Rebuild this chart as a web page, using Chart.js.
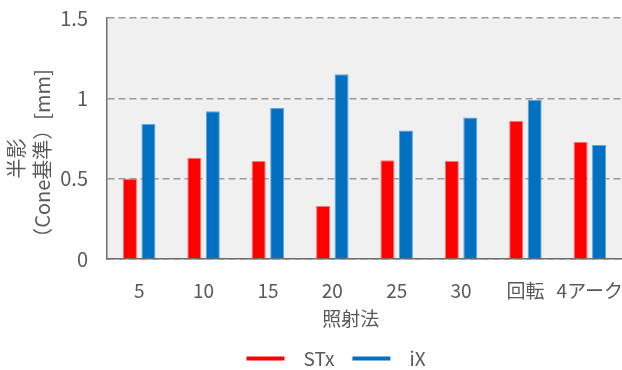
<!DOCTYPE html>
<html>
<head>
<meta charset="utf-8">
<script src="https://cdn.jsdelivr.net/npm/chart.js@4"></script>
<style>
  html, body { margin: 0; padding: 0; background: #ffffff; }
  canvas { display: block; }
</style>
</head>
<body>
<canvas id="chart" width="622" height="370"></canvas>
<script>
// Irradiation methods and penumbra widths for each machine
const categories = ['5', '10', '15', '20', '25', '30', '回転', '4アーク'];
const stxValues = [0.50, 0.63, 0.61, 0.33, 0.615, 0.61, 0.86, 0.73];
const ixValues = [0.84, 0.92, 0.94, 1.15, 0.80, 0.88, 0.99, 0.71];
const seriesNames = ['STx', 'iX'];
const yMin = 0, yMax = 1.5, yStep = 0.5;

const FONT = "'Noto Sans CJK JP', 'Noto Sans', sans-serif";
const TEXT = '#595959';

// Light grey plot background plus a small horizontal nudge for the legend row
const plotBackground = {
  id: 'plotBackground',
  afterLayout(chart) {
    const lg = chart.legend;
    if (lg) { lg.left += 25; lg.right += 25; }
  },
  beforeDraw(chart) {
    const { ctx, chartArea: a } = chart;
    ctx.save();
    ctx.fillStyle = '#f0f0f0';
    ctx.fillRect(a.left, a.top, a.right - a.left, a.bottom - a.top);
    ctx.restore();
  }
};

new Chart(document.getElementById('chart'), {
  type: 'bar',
  data: {
    labels: categories,
    datasets: [
      {
        label: seriesNames[0],
        data: stxValues,
        backgroundColor: '#ff0000',
        borderColor: '#ff7373',
        borderWidth: 1
      },
      {
        label: seriesNames[1],
        data: ixValues,
        backgroundColor: '#0070c0',
        borderColor: '#5fa3d8',
        borderWidth: 1
      }
    ]
  },
  options: {
    responsive: false,
    animation: false,
    devicePixelRatio: 1,
    categoryPercentage: 0.574,
    barPercentage: 0.757,
    layout: { padding: { left: 0, right: 0, top: 18, bottom: -8 } },
    plugins: {
      tooltip: { enabled: false },
      legend: {
        position: 'bottom',
        labels: {
          font: { family: FONT, size: 19 },
          color: TEXT,
          boxWidth: 38,
          boxHeight: 4,
          padding: 18,
          generateLabels(chart) {
            return chart.data.datasets.map((ds, i) => ({
              text: '\u2002' + ds.label,
              fillStyle: ds.backgroundColor,
              strokeStyle: ds.backgroundColor,
              lineWidth: 0,
              fontColor: TEXT,
              datasetIndex: i,
              hidden: false
            }));
          }
        }
      }
    },
    scales: {
      x: {
        afterFit(scale) {
          scale.height = 72;
          scale.paddingLeft = 0;
          scale.paddingRight = 0;
        },
        grid: { drawOnChartArea: false, drawTicks: false },
        border: { display: true, color: '#6e6e6e', width: 1.5 },
        ticks: {
          font: { family: FONT, size: 19 }, color: TEXT, padding: 20,
          maxRotation: 0, minRotation: 0, autoSkip: false
        },
        title: {
          display: true,
          text: '照射法\u3000  ',
          font: { family: FONT, size: 19 },
          color: TEXT,
          padding: { top: 0, bottom: 1 }
        }
      },
      y: {
        min: yMin,
        max: yMax,
        afterFit(scale) {
          scale.width = 107;
          scale.paddingTop = 0;
        },
        ticks: {
          stepSize: yStep, font: { family: FONT, size: 20 }, color: TEXT, padding: 19,
          callback: (v) => String(v)
        },
        grid: { color: '#9a9a9a', lineWidth: 1.5, drawTicks: false },
        border: { display: true, color: '#6e6e6e', width: 1.5, dash: [7, 4] },
        title: {
          display: true,
          text: ['半影\u3000\u3000', '（Cone基準）[mm]\u3000\u3000'],
          font: { family: FONT, size: 20, lineHeight: 1.3 },
          color: TEXT,
          padding: { top: 3, bottom: 4 }
        }
      }
    }
  },
  plugins: [plotBackground]
});
</script>
</body>
</html>
